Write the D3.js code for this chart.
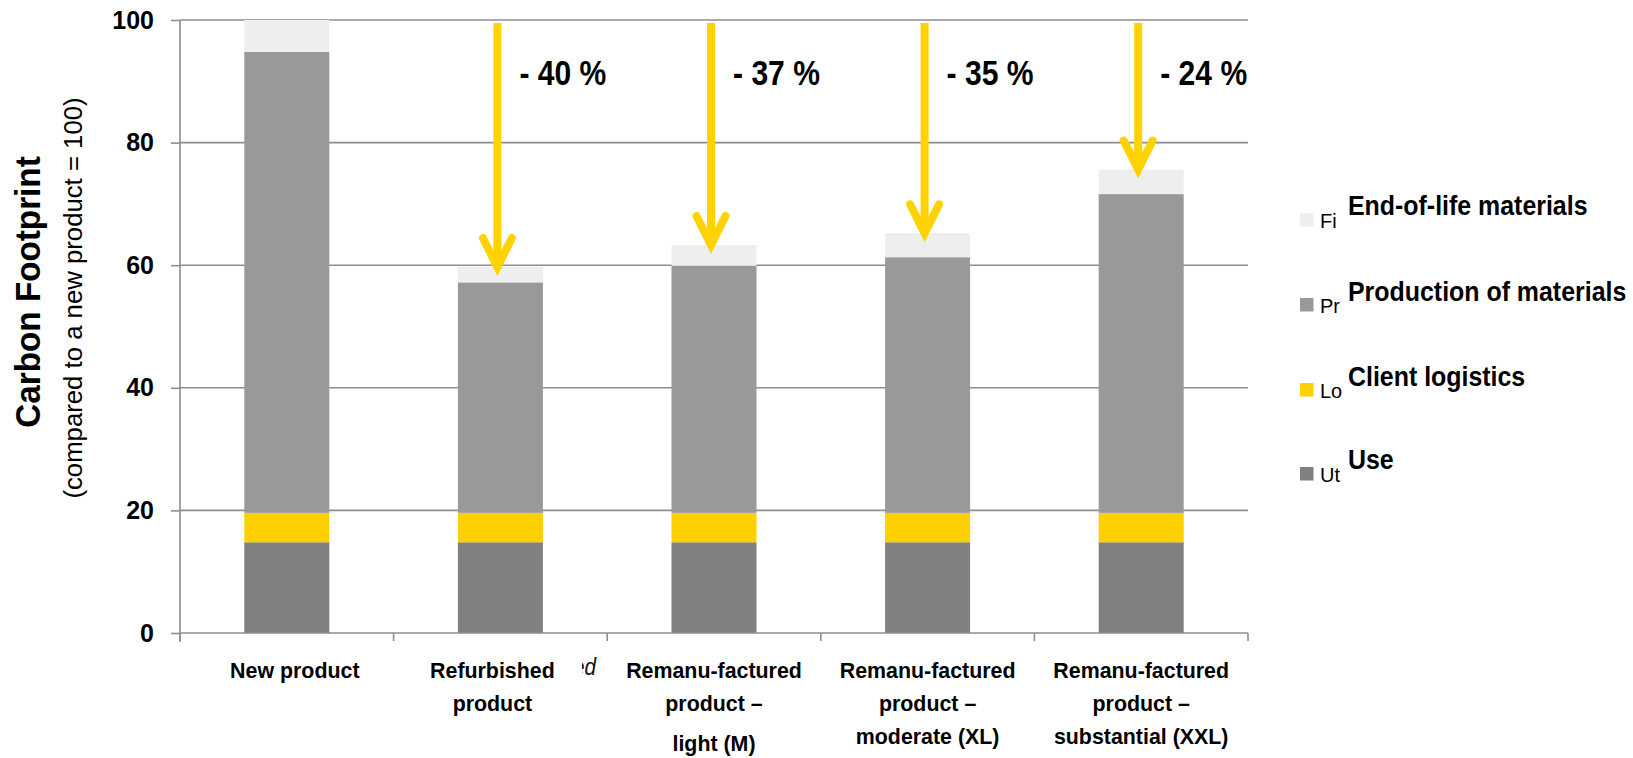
<!DOCTYPE html>
<html>
<head>
<meta charset="utf-8">
<script src="https://cdn.jsdelivr.net/npm/d3@7"></script>
<style>
  html, body { margin: 0; padding: 0; background: #fff; }
  svg { display: block; }
  text { font-family: "Liberation Sans", Arial, sans-serif; fill: #000; }
</style>
</head>
<body>
<svg id="chart" width="1633" height="758"></svg>
<script>
// ---------------- DATA ----------------
const categories = [
  ["New product"],
  ["Refurbished", "product"],
  ["Remanu-factured", "product –", "light (M)"],
  ["Remanu-factured", "product –", "moderate (XL)"],
  ["Remanu-factured", "product –", "substantial (XXL)"]
];
const catKeys = ["new", "refurb", "light", "moderate", "substantial"];
const useValues        = [14.8, 14.8, 14.8, 14.8, 14.8];
const logisticsValues  = [4.8, 4.8, 4.8, 4.8, 4.8];
const productionValues = [75.2, 37.6, 40.3, 41.7, 52.0];
const endOfLifeValues  = [5.2, 2.5, 3.4, 3.9, 4.0];
const reductionLabels  = [null, "- 40 %", "- 37 %", "- 35 %", "- 24 %"];
const yTicks = [0, 20, 40, 60, 80, 100];
const seriesNames = ["End-of-life materials", "Production of materials", "Client logistics", "Use"];
const seriesHidden = ["Fi", "Pr", "Lo", "Ut"];
const yTitle = "Carbon Footprint";
const ySubtitle = "(compared to a new product = 100)";

(function () {
// ---------------- LAYOUT ----------------
const svg = d3.select("#chart");
const pLeft = 180, pRight = 1248, pTop = 20, pBottom = 633;
const colors = { use: "#808080", logistics: "#FFD000", production: "#999999", eol: "#EEEEEE" };
const gridColor = "#8e8e8e";
const arrowColor = "#FFD200";

const x = d3.scaleBand().domain(catKeys).range([pLeft, pRight]).paddingInner(0.602).paddingOuter(0.301);
const y = d3.scaleLinear().domain([0, 100]).range([pBottom, pTop]);

function sText(g, tx, ty, str, o) {
  const t = g.append("text")
    .attr("transform", `translate(${tx},${ty})` + (o.rotate ? ` rotate(${o.rotate})` : "") + ` scale(${o.sx || 1},1)`)
    .attr("text-anchor", o.anchor || "start")
    .style("font-size", o.size + "px")
    .style("font-weight", o.weight || "normal")
    .style("font-style", o.style || "normal")
    .text(str);
  if (o.fill) t.style("fill", o.fill);
  return t;
}

const defs = svg.append("defs");

// gridlines
svg.append("g").selectAll("line").data(yTicks.filter(d => d > 0)).join("line")
  .attr("x1", pLeft).attr("x2", pRight)
  .attr("y1", d => y(d)).attr("y2", d => y(d))
  .attr("stroke", gridColor).attr("stroke-width", 1.6);

// stacked bars
const rows = catKeys.map((k, i) => ({
  key: k, use: useValues[i], logistics: logisticsValues[i],
  production: productionValues[i], eol: endOfLifeValues[i]
}));
const stack = d3.stack().keys(["use", "logistics", "production", "eol"]);
const layers = stack(rows);
svg.append("g").selectAll("g").data(layers).join("g")
  .attr("fill", d => colors[d.key])
  .selectAll("rect").data(d => d).join("rect")
  .attr("x", d => x(d.data.key))
  .attr("width", x.bandwidth())
  .attr("y", d => y(d[1]))
  .attr("height", d => y(d[0]) - y(d[1]));

// y axis
const yAxis = d3.axisLeft(y).tickValues(yTicks).tickSize(9).tickPadding(17).tickFormat(d3.format("d"));
const gy = svg.append("g").attr("transform", `translate(${pLeft},0)`).call(yAxis);
gy.select(".domain").remove();
gy.selectAll(".tick line").attr("stroke", gridColor).attr("stroke-width", 1.6);
gy.selectAll(".tick text")
  .style("font-family", '"Liberation Sans", Arial, sans-serif')
  .style("font-size", "25px").style("font-weight", "bold").attr("fill", "#000");
svg.append("line").attr("x1", pLeft).attr("x2", pLeft).attr("y1", pTop).attr("y2", pBottom + 9)
  .attr("stroke", gridColor).attr("stroke-width", 1.6);

// x axis line and ticks at band boundaries
svg.append("line").attr("x1", pLeft).attr("x2", pRight).attr("y1", pBottom).attr("y2", pBottom)
  .attr("stroke", gridColor).attr("stroke-width", 1.6);
const gap = (x.step() - x.bandwidth()) / 2;
const bounds = catKeys.map(k => x(k) - gap).concat([x(catKeys[catKeys.length - 1]) + x.bandwidth() + gap]);
svg.append("g").selectAll("line").data(bounds).join("line")
  .attr("x1", d => d).attr("x2", d => d).attr("y1", pBottom).attr("y2", pBottom + 8)
  .attr("stroke", gridColor).attr("stroke-width", 1.6);

// x labels
const labelShift = [8, -8, 0, 0, 0];
const lineY = [678, 711, 744];
const gx = svg.append("g");
categories.forEach((lines, i) => {
  const cx = x(catKeys[i]) + x.bandwidth() / 2 + labelShift[i];
  lines.forEach((ln, j) => {
    const yy = lineY[j] + (catKeys[i] === "light" && j === 2 ? 7 : 0);
    sText(gx, cx, yy, ln, { size: 23, weight: "bold", sx: 0.93, anchor: "middle" });
  });
});

// stray italic fragment under axis
defs.append("clipPath").attr("id", "fragClip")
  .append("rect").attr("x", 582).attr("y", 645).attr("width", 30).attr("height", 40);
const frag = svg.append("g").attr("clip-path", "url(#fragClip)");
sText(frag, 573, 675, "ed", { size: 23, style: "italic", sx: 0.9, fill: "#111" });

// y axis titles
sText(svg, 40, 292, yTitle, { size: 35, weight: "bold", sx: 0.95, anchor: "middle", rotate: -90 });
sText(svg, 82, 298, ySubtitle, { size: 26, sx: 0.99, anchor: "middle", rotate: -90 });

// arrows and reduction labels
const ga = svg.append("g");
const totals = rows.map(r => r.use + r.logistics + r.production + r.eol);
reductionLabels.forEach((lab, i) => {
  if (!lab) return;
  const ax = x(catKeys[i]) + x.bandwidth() / 2 - 3;
  const tipY = y(totals[i]) + 2;
  ga.append("line").attr("x1", ax).attr("x2", ax).attr("y1", pTop + 3).attr("y2", tipY - 4)
    .attr("stroke", arrowColor).attr("stroke-width", 8);
  ga.append("path")
    .attr("d", `M${ax - 14.5},${tipY - 31} L${ax},${tipY - 2} L${ax + 14.5},${tipY - 31}`)
    .attr("fill", "none").attr("stroke", arrowColor).attr("stroke-width", 8)
    .attr("stroke-linecap", "round").attr("stroke-linejoin", "miter");
  sText(ga, ax + 22, 85, lab, { size: 35, weight: "bold", sx: 0.86 });
});

// legend
const gl = svg.append("g");
const legendTop = [213, 298, 383, 467];
const legendColors = [colors.eol, colors.production, colors.logistics, colors.use];
seriesNames.forEach((name, i) => {
  gl.append("rect").attr("x", 1300).attr("y", legendTop[i]).attr("width", 13.5).attr("height", 13.5)
    .attr("fill", legendColors[i]);
  sText(gl, 1320, legendTop[i] + 14.5, seriesHidden[i], { size: 21, sx: 0.95 });
  sText(gl, 1348, legendTop[i] + 2 + (i === 1 ? 0.5 : 0) + (i === 2 ? 1 : 0), name, { size: 28, weight: "bold", sx: 0.89 });
});
})();
</script>
</body>
</html>
